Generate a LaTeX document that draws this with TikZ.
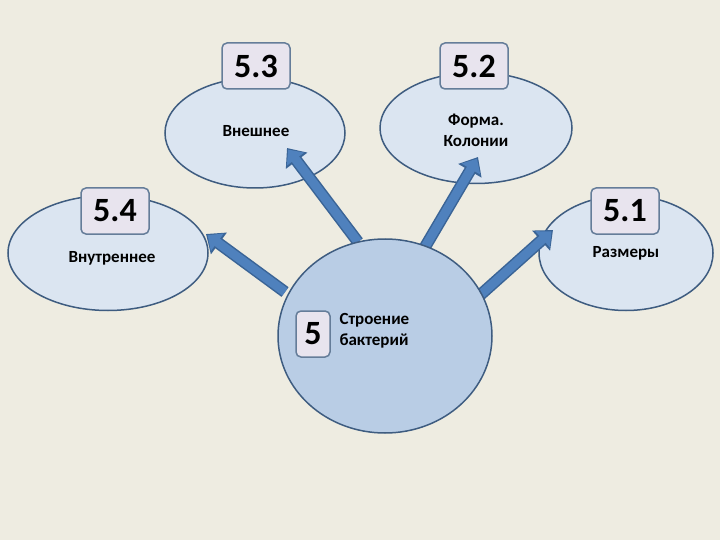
\documentclass[tikz,border=0pt]{standalone}
\usepackage{fontspec}
\setmainfont{Carlito}
\usetikzlibrary{arrows.meta,shapes.geometric}
\definecolor{bg}{HTML}{EEECE1}
\definecolor{ellf}{HTML}{DBE5F1}
\definecolor{elld}{HTML}{3E5C80}
\definecolor{cenf}{HTML}{B9CDE5}
\definecolor{arr}{HTML}{4F81BD}
\definecolor{arrd}{HTML}{3A6496}
\definecolor{boxf}{HTML}{E8E4EE}
\tikzset{
  ell/.style={ellipse, draw=elld, line width=1.5pt, fill=ellf},
  lbl/.style={draw=elld!80, fill=boxf, rounded corners=5pt, line width=1.5pt, minimum width=68pt, minimum height=46pt, font=\bfseries\fontsize{34}{36}\selectfont, inner sep=0pt},
  txt/.style={font=\bfseries\fontsize{17}{21}\selectfont, align=center},
  arrow/.style={draw=arrd, line width=12pt, -{Triangle[width=26pt,length=16pt]}},
  arrowin/.style={draw=arr, line width=9pt, -{Triangle[width=21pt,length=12pt]}, shorten >=2pt}
}
\begin{document}
\begin{tikzpicture}[x=1pt,y=-1pt]
\fill[bg] (0,0) rectangle (720,540);
\useasboundingbox (0,0) rectangle (720,540);
\node[ell, minimum width=180pt, minimum height=110pt] (e3) at (255,133) {};
\node[ell, minimum width=192pt, minimum height=111pt] (e2) at (476,128) {};
\node[ell, minimum width=200pt, minimum height=115pt] (e4) at (108,253) {};
\node[ell, minimum width=174pt, minimum height=115pt] (e1) at (626,253) {};
\node[txt] (t3) at (256,131) {Внешнее};
\node[txt] (t2) at (476,130) {Форма.\\Колонии};
\node[txt] (t4) at (112,258) {Внутреннее};
\node[txt] (t1) at (626,253) {Размеры};
\coordinate (s3) at (358,242); \coordinate (h3) at (287,148);
\coordinate (s2) at (425,247); \coordinate (h2) at (478,157);
\coordinate (s4) at (285,292); \coordinate (h4) at (206,234);
\coordinate (s1) at (478,297); \coordinate (h1) at (553,230);
\foreach \a/\b in {s3/h3,s2/h2,s4/h4,s1/h1}{
  \draw[arrow] (\a) -- (\b);
  \draw[arrowin] (\a) -- (\b);
}
\node[ellipse, draw=elld, line width=1.5pt, fill=cenf, minimum width=214pt, minimum height=194pt] (c) at (385,336) {};
\node[lbl] (b3) at (256,66) {5.3};
\node[lbl] (b2) at (474,66) {5.2};
\node[lbl] (b4) at (115,211) {5.4};
\node[lbl] (b1) at (625,211) {5.1};
\node[lbl, minimum width=34pt] (b5) at (313,334) {5};
\node[txt, align=left, anchor=west] (t5) at (336,331) {Строение\\бактерий};
\end{tikzpicture}
\end{document}
